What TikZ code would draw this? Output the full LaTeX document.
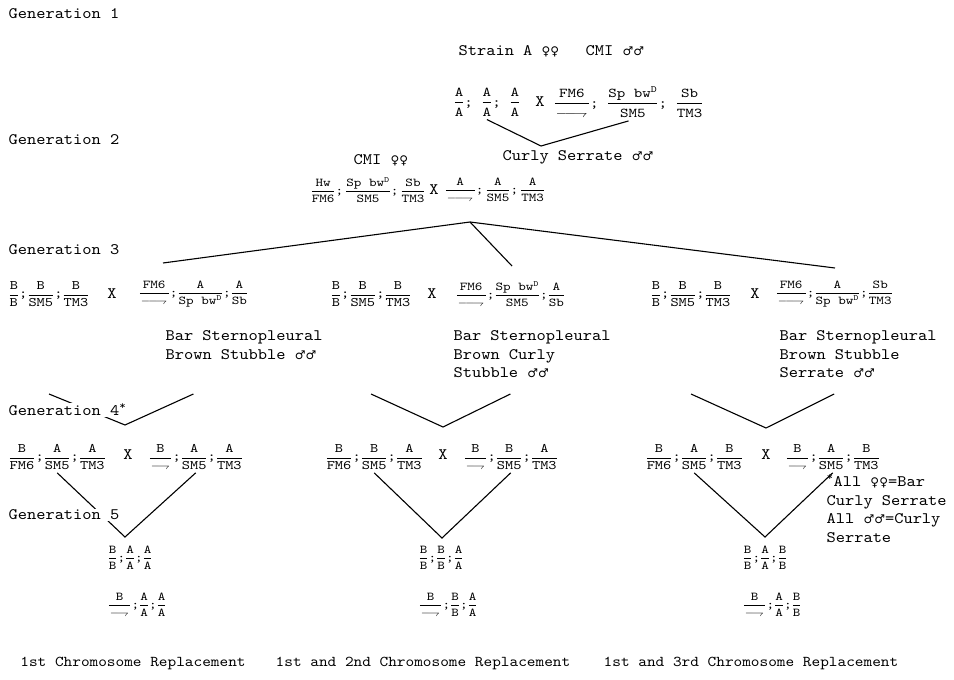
\documentclass[tikz,border=0pt]{standalone}
\usepackage{amsmath, amssymb}
\usepackage{fontspec}
\newfontfamily\symf{DejaVu Sans}
\newfontfamily\typew[FakeStretch=1.1]{lmmono10-regular.otf}
\newfontfamily\typef[FakeStretch=1.2]{lmmono10-regular.otf}
\newcommand{\fr}[2]{$\dfrac{\text{#1}}{\text{#2}}$}
\newcommand{\ych}{\kern1pt$\relbar\joinrel\rightharpoondown$\kern1.5pt}
\newcommand{\ychl}{\kern1pt$\relbar\joinrel\relbar\joinrel\rightharpoondown$\kern1.5pt}
\newcommand{\ff}{{\symf\fontsize{12}{14}\selectfont ♀♀}}
\newcommand{\mm}{{\symf\fontsize{12}{14}\selectfont ♂♂}}

\begin{document}
\begin{tikzpicture}[x=1pt, y=-1pt, line width=1.1pt,
  genlbl/.style={anchor=west, inner sep=1pt, fill=white, font=\typew\fontsize{16}{18}\selectfont},
  sexlbl/.style={anchor=west, inner sep=0pt, font=\typew\fontsize{16}{18}\selectfont},
  pheno/.style={anchor=north west, align=left, inner sep=0pt, font=\typew\fontsize{16}{18.5}\selectfont},
  geno/.style={anchor=west, inner xsep=0pt, inner ysep=3pt, font=\typef\fontsize{13}{16}\selectfont},
  genom/.style={geno, font=\typef\fontsize{12}{15}\selectfont},
  genos/.style={anchor=west, inner sep=0pt, font=\typef\fontsize{12}{14}\selectfont},
  cross/.style={inner sep=0pt, font=\typew\fontsize{16}{18}\selectfont},
  result/.style={inner sep=0pt, font=\typew\fontsize{15}{18}\selectfont}]
  \useasboundingbox (0,0) rectangle (954,680);

  % Generation 1
  \node[sexlbl] (s1f) at (458,51) {Strain A \ff};
  \node[sexlbl] (s1m) at (585,51) {CMI \mm};
  \node[geno, font=\typef\fontsize{13.5}{16}\selectfont] (g1f) at (453,102) {\fr{A}{A}; \fr{A}{A}; \fr{A}{A}};
  \node[cross] (g1x) at (540,102) {X};
  \node[geno, font=\typef\fontsize{13.5}{16}\selectfont] (g1m) at (553,102) {\fr{FM6}{\ychl}; \fr{Sp bw$^{\text{D}}$}{SM5}; \fr{Sb}{TM3}};
  \coordinate (v1) at (541,146);
  \draw (g1f.south) -- (v1) -- (g1m.south);

  % Generation 2
  \node[sexlbl] (s2f) at (353,160) {CMI \ff};
  \node[sexlbl] (s2m) at (502,157) {Curly Serrate \mm};
  \node[genom] (g2f) at (310,190) {\fr{Hw}{FM6};\,\fr{Sp bw$^{\text{D}}$}{SM5};\,\fr{Sb}{TM3}};
  \node[cross] (g2x) at (434,190) {X};
  \node[genom] (g2m) at (444,190) {\fr{A}{\ychl};\,\fr{A}{SM5};\,\fr{A}{TM3}};
  \coordinate (v2) at (470,222);
  \coordinate (e3l) at (163,263);
  \coordinate (e3m) at (512,266);
  \coordinate (e3r) at (835,268);
  \draw (e3l) -- (v2) -- (e3r);
  \draw (v2) -- (e3m);

  % Generation 3
  \node[geno] (g3lf) at (8,294) {\fr{B}{B};\fr{B}{SM5};\fr{B}{TM3}};
  \node[cross] (g3lx) at (112,294) {X};
  \node[genom] (g3lm) at (138,294) {\fr{FM6}{\ychl};\fr{A}{Sp bw$^{\text{D}}$};\fr{A}{Sb}};
  \node[geno] (g3mf) at (330,294) {\fr{B}{B};\fr{B}{SM5};\fr{B}{TM3}};
  \node[cross] (g3mx) at (432,294) {X};
  \node[genom] (g3mm) at (455,294) {\fr{FM6}{\ychl};\fr{Sp bw$^{\text{D}}$}{SM5};\fr{A}{Sb}};
  \node[geno] (g3rf) at (650,294) {\fr{B}{B};\fr{B}{SM5};\fr{B}{TM3}};
  \node[cross] (g3rx) at (755,294) {X};
  \node[genom] (g3rm) at (775,294) {\fr{FM6}{\ychl};\fr{A}{Sp bw$^{\text{D}}$};\fr{Sb}{TM3}};
  \node[pheno] (p3l) at (165,330) {Bar Sternopleural\\Brown Stubble \mm};
  \node[pheno] (p3m) at (453,330) {Bar Sternopleural\\Brown Curly\\Stubble \mm};
  \node[pheno] (p3r) at (779,330) {Bar Sternopleural\\Brown Stubble\\Serrate \mm};

  % Generation 3 -> 4
  \coordinate (t4) at (0,394);
  \coordinate (v4l) at (125,425);
  \coordinate (v4m) at (443,427);
  \coordinate (v4r) at (766,428);
  \draw (g3lf |- t4) -- (v4l) -- (g3lm |- t4);
  \draw (g3mf |- t4) -- (v4m) -- (g3mm |- t4);
  \draw (g3rf |- t4) -- (v4r) -- (g3rm |- t4);

  % Generation 4
  \node[geno] (g4lf) at (8,457) {\fr{B}{FM6};\fr{A}{SM5};\fr{A}{TM3}};
  \node[cross] (g4lx) at (128,455) {X};
  \node[geno] (g4lm) at (148,457) {\fr{B}{\ych};\fr{A}{SM5};\fr{A}{TM3}};
  \node[geno] (g4mf) at (325,457) {\fr{B}{FM6};\fr{B}{SM5};\fr{A}{TM3}};
  \node[cross] (g4mx) at (443,455) {X};
  \node[geno] (g4mm) at (463,457) {\fr{B}{\ych};\fr{B}{SM5};\fr{A}{TM3}};
  \node[geno] (g4rf) at (645,457) {\fr{B}{FM6};\fr{A}{SM5};\fr{B}{TM3}};
  \node[cross] (g4rx) at (766,455) {X};
  \node[geno] (g4rm) at (785,457) {\fr{B}{\ych};\fr{A}{SM5};\fr{B}{TM3}};
  \node[pheno] (note) at (826,474) {\textsuperscript{*}All \ff=Bar\\ Curly Serrate\\ All \mm=Curly\\ Serrate};

  % Generation 4 -> 5
  \coordinate (v5l) at (125,537);
  \coordinate (v5m) at (442,538);
  \coordinate (v5r) at (765,537);
  \draw (g4lf.south) -- (v5l) -- (g4lm.south);
  \draw (g4mf.south) -- (v5m) -- (g4mm.south);
  \draw (g4rf.south) -- (v5r) -- (g4rm.south);

  % Generation 5
  \node[genos] (g5l1) at (107,558) {\fr{B}{B};\fr{A}{A};\fr{A}{A}};
  \node[genos] (g5l2) at (107,605) {\fr{B}{\ych};\fr{A}{A};\fr{A}{A}};
  \node[genos] (g5m1) at (418,558) {\fr{B}{B};\fr{B}{B};\fr{A}{A}};
  \node[genos] (g5m2) at (418,605) {\fr{B}{\ych};\fr{B}{B};\fr{A}{A}};
  \node[genos] (g5r1) at (742,558) {\fr{B}{B};\fr{A}{A};\fr{B}{B}};
  \node[genos] (g5r2) at (742,605) {\fr{B}{\ych};\fr{A}{A};\fr{B}{B}};

  % Generation labels
  \node[genlbl] (gen1) at (7,14) {Generation 1};
  \node[genlbl] (gen2) at (7,140) {Generation 2};
  \node[genlbl] (gen3) at (7,250) {Generation 3};
  \node[genlbl] (gen4) at (7,410) {Generation 4\textsuperscript{*}};
  \node[genlbl] (gen5) at (7,515) {Generation 5};

  % Replacement results
  \node[result] (r1) at (133,663) {1st Chromosome Replacement};
  \node[result] (r2) at (423,663) {1st and 2nd Chromosome Replacement};
  \node[result] (r3) at (751,663) {1st and 3rd Chromosome Replacement};
\end{tikzpicture}
\end{document}
